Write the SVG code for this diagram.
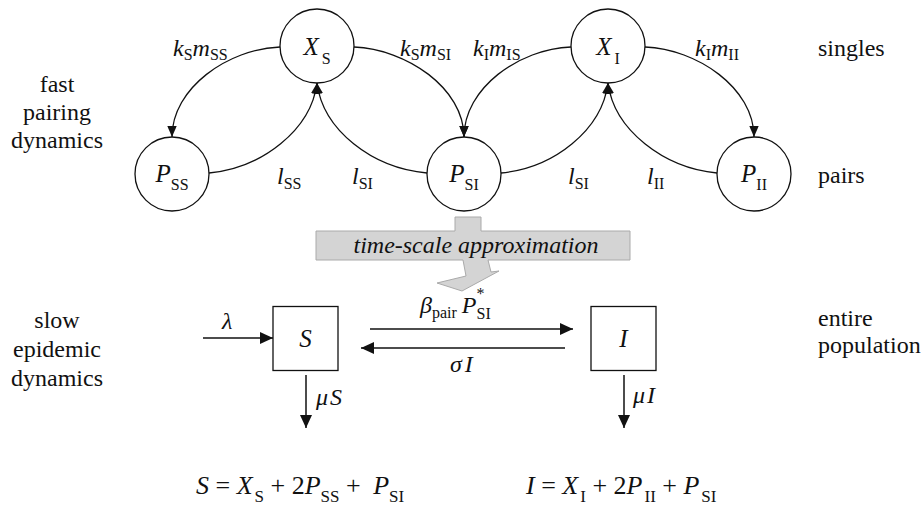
<svg xmlns="http://www.w3.org/2000/svg" width="922" height="506" viewBox="0 0 922 506">
<style>
text { font-family: "Liberation Serif", "Times New Roman", serif; font-size: 24px; fill: #111; }
.i { font-style: italic; }
.s { font-size: 16px; font-style: normal; }
.lab { font-size: 24px; }
.mid { text-anchor: middle; }
.node circle { fill: #fff; stroke: #111; stroke-width: 1.3; }
.node rect { fill: #fff; stroke: #111; stroke-width: 1.3; }
.node .m { font-size: 25px; }
.conn path { fill: none; stroke: #111; stroke-width: 1.3; }
.conn .st { stroke-width: 1.5; }
.f { font-size: 26px; }
.fs { font-size: 17px; font-style: normal; }
</style>
<defs>
<marker id="ah" viewBox="0 0 11 10" refX="11" refY="5" markerWidth="11" markerHeight="10" markerUnits="userSpaceOnUse" orient="auto">
<path d="M0,0.3 L11,5 L0,9.7 z" fill="#111"/>
</marker>
<marker id="ab" viewBox="0 0 13 12" refX="13" refY="6" markerWidth="13" markerHeight="12" markerUnits="userSpaceOnUse" orient="auto">
<path d="M0,0 L13,6 L0,12 z" fill="#111"/>
</marker>
</defs>

<!-- side labels -->
<g id="side-labels">
<text class="lab mid" x="57" y="92">fast</text>
<text class="lab mid" x="57" y="120">pairing</text>
<text class="lab mid" x="57" y="148">dynamics</text>
<text class="lab mid" x="57" y="328">slow</text>
<text class="lab mid" x="57" y="357">epidemic</text>
<text class="lab mid" x="57" y="386">dynamics</text>
<text class="lab" x="818" y="56">singles</text>
<text class="lab" x="818" y="183">pairs</text>
<text class="lab" x="818" y="326">entire</text>
<text class="lab" x="818" y="353">population</text>
</g>

<!-- connectors -->
<g id="connectors" class="conn">
<path d="M280,47 C228,49 172,88 172,137" marker-end="url(#ah)"/>
<path d="M209,173 C262,168 311,130 317,83" marker-end="url(#ah)"/>
<path d="M427,173 C372,168 323,130 317,83" marker-end="url(#ah)"/>
<path d="M354,47 C406,49 464,88 464,137" marker-end="url(#ah)"/>
<path d="M571,47 C519,49 464,88 464,137" marker-end="url(#ah)"/>
<path d="M501,173 C554,168 602,130 608,83" marker-end="url(#ah)"/>
<path d="M717,173 C664,168 614,130 608,83" marker-end="url(#ah)"/>
<path d="M645,47 C697,49 754,88 754,137" marker-end="url(#ah)"/>
<path class="st" d="M203,338 L273,338" marker-end="url(#ab)"/>
<path class="st" d="M370,329 L573,329" marker-end="url(#ab)"/>
<path class="st" d="M565,348 L361,348" marker-end="url(#ab)"/>
<path class="st" d="M306,375 L306,428" marker-end="url(#ab)"/>
<path class="st" d="M624,375 L624,428" marker-end="url(#ab)"/>
</g>

<!-- connector labels -->
<g id="connector-labels">
<text x="173" y="56"><tspan class="i">k</tspan><tspan class="s" dy="4">S</tspan><tspan class="i" dy="-4">m</tspan><tspan class="s" dy="4">SS</tspan></text>
<text x="400" y="56"><tspan class="i">k</tspan><tspan class="s" dy="4">S</tspan><tspan class="i" dy="-4">m</tspan><tspan class="s" dy="4">SI</tspan></text>
<text x="473" y="56"><tspan class="i">k</tspan><tspan class="s" dy="4">I</tspan><tspan class="i" dy="-4">m</tspan><tspan class="s" dy="4">IS</tspan></text>
<text x="695" y="56"><tspan class="i">k</tspan><tspan class="s" dy="4">I</tspan><tspan class="i" dy="-4">m</tspan><tspan class="s" dy="4">II</tspan></text>
<text x="277" y="184"><tspan class="i">l</tspan><tspan class="s" dy="5">SS</tspan></text>
<text x="352" y="184"><tspan class="i">l</tspan><tspan class="s" dy="5">SI</tspan></text>
<text x="568" y="184"><tspan class="i">l</tspan><tspan class="s" dy="5">SI</tspan></text>
<text x="647" y="184"><tspan class="i">l</tspan><tspan class="s" dy="5">II</tspan></text>
<text x="222" y="329" class="i">λ</text>
<text x="420" y="313"><tspan class="i">β</tspan><tspan class="s" dy="5">pair</tspan><tspan class="i" dx="5" dy="-5">P</tspan><tspan class="s" dy="-14">*</tspan><tspan class="s" dx="-8" dy="20">SI</tspan></text>
<text x="450" y="372"><tspan class="i">σ</tspan><tspan class="i" dx="3">I</tspan></text>
<text x="316" y="405"><tspan class="i">μ</tspan><tspan class="i" dx="2">S</tspan></text>
<text x="633" y="403"><tspan class="i">μ</tspan><tspan class="i" dx="2">I</tspan></text>
</g>

<!-- fast pairing nodes -->
<g id="node-XS" class="node">
<circle cx="317" cy="46" r="37"/>
<text class="m mid" x="317" y="55"><tspan class="i">X</tspan><tspan class="s" dx="3" dy="9">S</tspan></text>
</g>
<g id="node-XI" class="node">
<circle cx="608" cy="46" r="37"/>
<text class="m mid" x="608" y="55"><tspan class="i">X</tspan><tspan class="s" dx="3" dy="9">I</tspan></text>
</g>
<g id="node-PSS" class="node">
<circle cx="172" cy="174" r="37"/>
<text class="m mid" x="172" y="182"><tspan class="i">P</tspan><tspan class="s" dy="8">SS</tspan></text>
</g>
<g id="node-PSI" class="node">
<circle cx="464" cy="174" r="37"/>
<text class="m mid" x="464" y="182"><tspan class="i">P</tspan><tspan class="s" dy="8">SI</tspan></text>
</g>
<g id="node-PII" class="node">
<circle cx="754" cy="174" r="37"/>
<text class="m mid" x="754" y="182"><tspan class="i">P</tspan><tspan class="s" dy="8">II</tspan></text>
</g>

<!-- time-scale approximation block arrow -->
<g id="node-timescale">
<path d="M455,217 L481,217 L481,231 L630,231 L630,260 L488,260 L491,272 L499,271 L462,291 L437,283 L466,276 L463,260 L316,260 L316,231 L455,231 Z" fill="#d4d4d4" stroke="#aaaaaa" stroke-width="1"/>
<text class="i mid" x="476" y="253">time-scale approximation</text>
</g>

<!-- epidemic nodes -->
<g id="node-S" class="node">
<rect x="273" y="306.5" width="65" height="64"/>
<text class="m i mid" x="305.5" y="347">S</text>
</g>
<g id="node-I" class="node">
<rect x="591" y="306.5" width="65" height="64"/>
<text class="m i mid" x="623.5" y="347">I</text>
</g>

<!-- formulas -->
<g id="formulas">
<text class="f" x="196" y="494"><tspan class="i">S</tspan> = <tspan class="i">X</tspan><tspan class="fs" dx="2" dy="8">S</tspan><tspan dy="-8"> + 2</tspan><tspan class="i">P</tspan><tspan class="fs" dy="8">SS</tspan><tspan dy="-8"> + </tspan><tspan class="i" dx="6">P</tspan><tspan class="fs" dy="8">SI</tspan></text>
<text class="f" x="526" y="494"><tspan class="i">I</tspan> = <tspan class="i">X</tspan><tspan class="fs" dx="2" dy="8">I</tspan><tspan dy="-8"> + 2</tspan><tspan class="i">P</tspan><tspan class="fs" dx="2" dy="8">II</tspan><tspan dy="-8"> + </tspan><tspan class="i">P</tspan><tspan class="fs" dx="2" dy="8">SI</tspan></text>
</g>
</svg>
